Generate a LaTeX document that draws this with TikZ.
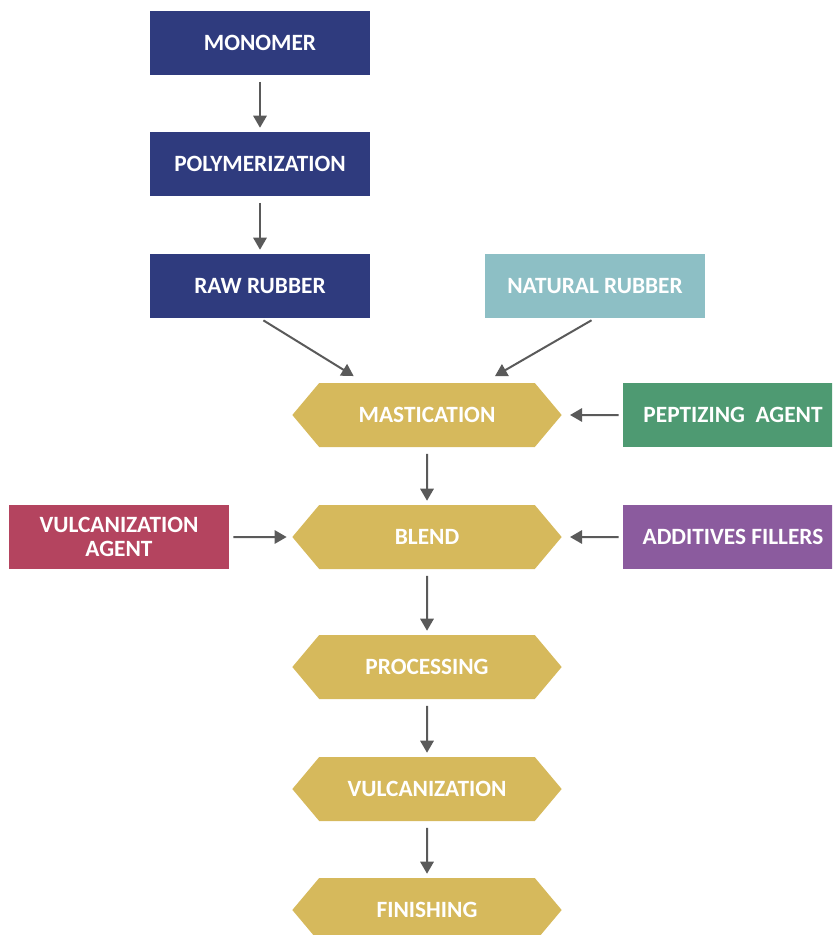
\documentclass[tikz,border=0pt]{standalone}
\usepackage{fontspec}
\setmainfont{Carlito}
\usetikzlibrary{arrows.meta,shapes.symbols}

\definecolor{navyblue}{HTML}{2F3B7E}
\definecolor{paleteal}{HTML}{8DBFC5}
\definecolor{mustard}{HTML}{D6B95C}
\definecolor{sagegreen}{HTML}{4E9A72}
\definecolor{crimson}{HTML}{B4445F}
\definecolor{plum}{HTML}{8B5B9E}
\definecolor{arrowgray}{HTML}{5A5A5A}

\tikzset{
  box/.style={rectangle, minimum width=165pt, minimum height=48pt, inner sep=0pt,
    text=white, align=center, font=\bfseries\fontsize{17.5}{18}\selectfont},
  stage/.style={signal, signal to=west and east, signal pointer angle=100,
    fill=mustard, minimum width=202pt, minimum height=48pt, inner sep=0pt,
    text=white, font=\bfseries\fontsize{17.5}{18}\selectfont},
  arr/.style={draw=arrowgray, line width=1.5pt, -{Triangle[length=9pt,width=10pt]}},
}

\begin{document}
\begin{tikzpicture}[x=0.75pt, y=-0.75pt]
  \path[use as bounding box, clip] (0,0) rectangle (832,935);

  % synthetic rubber chain
  \node[box, fill=navyblue] (mono) at (260,43) {MONOMER};
  \node[box, fill=navyblue] (poly) at (260,164) {POLYMERIZATION};
  \node[box, fill=navyblue] (raw) at (260,286) {RAW RUBBER};
  \node[box, fill=paleteal] (natural) at (595,286) {NATURAL RUBBER};

  % main process
  \node[stage] (mast) at (427,415) {MASTICATION};
  \node[stage] (blend) at (427,537) {BLEND};
  \node[stage] (proc) at (427,667) {PROCESSING};
  \node[stage] (vulc) at (427,789) {VULCANIZATION};
  \node[stage] (finish) at (427,910) {FINISHING};

  % side inputs
  \node[box, fill=sagegreen] (pept) at (733,415) {PEPTIZING~~AGENT};
  \node[box, fill=crimson] (vagent) at (119,537) {VULCANIZATION\\AGENT};
  \node[box, fill=plum] (addit) at (733,537) {ADDITIVES FILLERS};

  % arrows
  \draw[arr, shorten <=5, shorten >=3] (mono) -- (poly);
  \draw[arr, shorten <=5, shorten >=3] (poly) -- (raw);
  \draw[arr, shorten <=3] (raw.south) -- ([xshift=-55pt,yshift=5pt]mast.north);
  \draw[arr, shorten <=3] (natural.south) -- ([xshift=51pt,yshift=5pt]mast.north);
  \draw[arr, shorten <=3, shorten >=6] (pept) -- (mast);
  \draw[arr, shorten <=5, shorten >=3] (mast) -- (blend);
  \draw[arr, shorten <=3, shorten >=4] (vagent) -- (blend);
  \draw[arr, shorten <=3, shorten >=6] (addit) -- (blend);
  \draw[arr, shorten <=5, shorten >=3] (blend) -- (proc);
  \draw[arr, shorten <=5, shorten >=3] (proc) -- (vulc);
  \draw[arr, shorten <=5, shorten >=3] (vulc) -- (finish);
\end{tikzpicture}
\end{document}
